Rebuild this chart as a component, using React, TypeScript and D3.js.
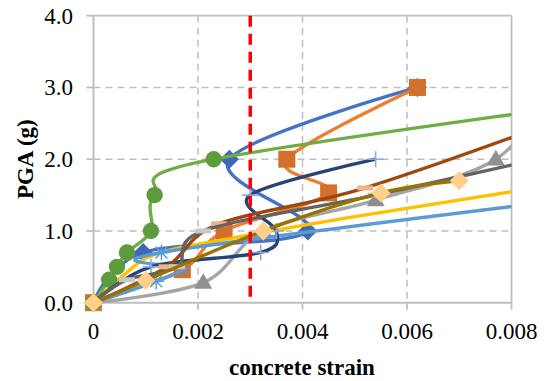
import React from 'react';
import * as d3 from 'd3';

// ---- data ----
const xTicks = [0, 0.002, 0.004, 0.006, 0.008];
const xTickLabels = ['0', '0.002', '0.004', '0.006', '0.008'];
const yTicks = [0, 1, 2, 3, 4];
const yTickLabels = ['0.0', '1.0', '2.0', '3.0', '4.0'];
const limitStrain = 0.003;

const blueSeries = [[0, 0], [0.00095, 0.7], [0.0041, 1.0], [0.0026, 2.0], [0.0062, 3.0]];
const orangeSeries = [[0, 0], [0.0017, 0.46], [0.0025, 1.0], [0.0045, 1.53], [0.0037, 2.0], [0.0062, 3.0]];
const graySeries = [[0, 0], [0.0021, 0.28], [0.00325, 1.0], [0.0054, 1.43], [0.0077, 2.0], [0.0088, 3.0]];
const goldSeries = [[0, 0], [0.0006, 0.4], [0.0012, 0.68], [0.0025, 0.88], [0.005, 1.2], [0.0098, 1.75]];
const lightBlueSeries = [[0, 0], [0.0012, 0.3], [0.0017, 0.48], [0.0013, 0.7], [0.0098, 1.5]];
const greenSeries = [[0, 0], [0.0003, 0.32], [0.00045, 0.5], [0.00064, 0.7], [0.0011, 1.0], [0.00117, 1.5], [0.0023, 2.0], [0.0118, 3.0]];
const darkBlueSeries = [[0, 0], [0.0011, 0.5], [0.0032, 0.7], [0.0035, 1.0], [0.003, 1.5], [0.0054, 2.0]];
const brownSeries = [[0, 0], [0.0014, 0.5], [0.0024, 1.1], [0.0052, 1.6], [0.0095, 2.7]];
const darkGraySeries = [[0, 0], [0.00064, 0.32], [0.0016, 0.5], [0.0021, 1.0], [0.0054, 1.5], [0.0085, 2.0]];
const oliveSeries = [[0, 0], [0.001, 0.31], [0.00325, 1.0], [0.0055, 1.53], [0.007, 1.7]];

// ---- styles ----
const seriesStyles = [
  { data: blueSeries, line: '#4472C4', marker: 'diamond', mColor: '#3F67B5' },
  { data: orangeSeries, line: '#ED7D31', marker: 'square', mColor: '#D2702C' },
  { data: graySeries, line: '#A5A5A5', marker: 'triangle', mColor: '#8F8F8F' },
  { data: goldSeries, line: '#FFC000', marker: 'none', mColor: '#FFC000' },
  { data: lightBlueSeries, line: '#5B9BD5', marker: 'star', mColor: '#5B9BD5' },
  { data: greenSeries, line: '#70AD47', marker: 'circle', mColor: '#5E9B3C' },
  { data: darkBlueSeries, line: '#264478', marker: 'plus', mColor: '#8EA9DB' },
  { data: brownSeries, line: '#9E480E', marker: 'dash', mColor: '#F4B183' },
  { data: darkGraySeries, line: '#636363', marker: 'dash', mColor: '#C8C8C8' },
  { data: oliveSeries, line: '#997300', marker: 'diamond', mColor: '#FFD08A' },
];

const W = 548;
const H = 381;
const PL = 93.5, PR = 511.5, PT = 15.7, PB = 302.7;
const FONT = '"Liberation Serif", "Times New Roman", serif';
const GRID = '#BFBFBF';

const x = d3.scaleLinear().domain([0, 0.008]).range([PL, PR]);
const y = d3.scaleLinear().domain([0, 4]).range([PB, PT]);

const lineGen = d3
  .line<number[]>()
  .x((d) => x(d[0]))
  .y((d) => y(d[1]))
  .curve(d3.curveCardinal.tension(0));

function Marker({ type, cx, cy, color }: { type: string; cx: number; cy: number; color: string }) {
  switch (type) {
    case 'diamond': {
      const r = 9.5;
      return <path d={`M${cx},${cy - r}L${cx + r},${cy}L${cx},${cy + r}L${cx - r},${cy}Z`} fill={color} />;
    }
    case 'square': {
      const s = 17;
      return <rect x={cx - s / 2} y={cy - s / 2} width={s} height={s} fill={color} />;
    }
    case 'triangle': {
      const s = 18;
      const h = s * 0.87;
      return <path d={`M${cx},${cy - h * 0.6}L${cx + s / 2},${cy + h * 0.4}L${cx - s / 2},${cy + h * 0.4}Z`} fill={color} />;
    }
    case 'circle':
      return <circle cx={cx} cy={cy} r={8.2} fill={color} />;
    case 'plus': {
      const r = 8;
      return (
        <path d={`M${cx - r},${cy}H${cx + r}M${cx},${cy - r}V${cy + r}`} stroke={color} strokeWidth={1.6} fill="none" />
      );
    }
    case 'star': {
      const r = 8;
      const a = r * 0.75;
      return (
        <path
          d={`M${cx},${cy - r}V${cy + r}M${cx - a},${cy - a}L${cx + a},${cy + a}M${cx - a},${cy + a}L${cx + a},${cy - a}M${cx - r},${cy}H${cx + r}`}
          stroke={color}
          strokeWidth={1.4}
          fill="none"
        />
      );
    }
    case 'dash':
      return <rect x={cx - 8} y={cy - 2.5} width={16} height={5} fill={color} />;
    default:
      return null;
  }
}

export default function App() {
  return (
    <svg width={W} height={H} style={{ position: 'absolute', left: 0, top: 0, background: '#fff' }}>
      <defs>
        <clipPath id="plotClip">
          <rect x={0} y={PT - 2} width={PR} height={H} />
        </clipPath>
      </defs>
      <rect x={0} y={0} width={W} height={H} fill="#fff" />

      {/* gridlines */}
      {yTicks.slice(1, -1).map((v) => (
        <line key={'gy' + v} x1={PL} x2={PR} y1={y(v)} y2={y(v)} stroke={GRID} strokeWidth={1.5} strokeDasharray="7,5" />
      ))}
      {xTicks.slice(1, -1).map((v) => (
        <line key={'gx' + v} x1={x(v)} x2={x(v)} y1={PT} y2={PB} stroke={GRID} strokeWidth={1.5} strokeDasharray="7,5" />
      ))}
      {/* border top/right */}
      <line x1={PL} x2={PR} y1={PT} y2={PT} stroke={GRID} strokeWidth={1.8} />
      <line x1={PR} x2={PR} y1={PT} y2={PB} stroke={GRID} strokeWidth={1.8} />
      {/* axes */}
      <line x1={PL} x2={PL} y1={PT} y2={PB} stroke={GRID} strokeWidth={2} />
      <line x1={PL} x2={PR} y1={PB} y2={PB} stroke={GRID} strokeWidth={2} />
      {yTicks.map((v) => (
        <line key={'ty' + v} x1={PL - 7} x2={PL} y1={y(v)} y2={y(v)} stroke={GRID} strokeWidth={1.8} />
      ))}
      {xTicks.map((v) => (
        <line key={'tx' + v} x1={x(v)} x2={x(v)} y1={PB} y2={PB + 7} stroke={GRID} strokeWidth={1.8} />
      ))}

      {/* series */}
      {seriesStyles.map((s, i) => (
        <g key={'s' + i}>
          <path d={lineGen(s.data as number[][]) || ''} fill="none" stroke={s.line} strokeWidth={3.4} clipPath="url(#plotClip)" strokeLinejoin="round" />
          {s.data
            .filter((p) => p[0] <= 0.008)
            .map((p, j) => (
              <Marker key={j} type={s.marker} cx={x(p[0])} cy={y(p[1])} color={s.mColor} />
            ))}
        </g>
      ))}

      {/* limit line */}
      <line x1={x(limitStrain)} x2={x(limitStrain)} y1={PT} y2={PB} stroke="#FF0000" strokeWidth={3.5} strokeDasharray="11,7" />

      {/* tick labels */}
      {yTicks.map((v, i) => (
        <text key={'ly' + v} x={73} y={y(v) + 8} textAnchor="end" fontFamily={FONT} fontSize={23} fill="#000">
          {yTickLabels[i]}
        </text>
      ))}
      {xTicks.map((v, i) => (
        <text key={'lx' + v} x={x(v)} y={339} textAnchor="middle" fontFamily={FONT} fontSize={23} fill="#000">
          {xTickLabels[i]}
        </text>
      ))}

      {/* axis titles */}
      <text x={302} y={375} textAnchor="middle" fontFamily={FONT} fontSize={23} fontWeight="bold" fill="#000">
        concrete strain
      </text>
      <text
        transform={`translate(33,${(PT + PB) / 2}) rotate(-90)`}
        textAnchor="middle"
        fontFamily={FONT}
        fontSize={23}
        fontWeight="bold"
        fill="#000"
      >
        PGA (g)
      </text>
    </svg>
  );
}
